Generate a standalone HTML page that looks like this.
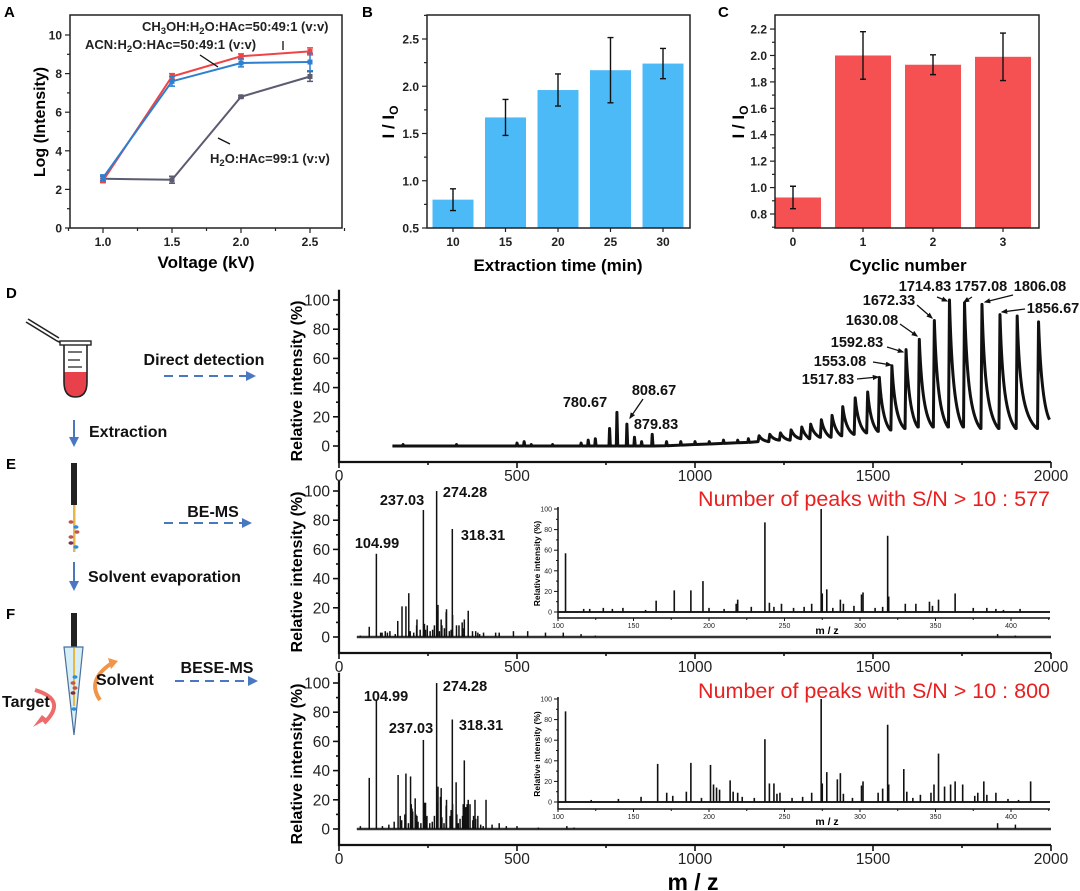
<!DOCTYPE html>
<html><head><meta charset="utf-8"><title>Figure</title>
<style>
html,body{margin:0;padding:0;background:#fff;}
svg{display:block;font-family:"Liberation Sans",Arial,sans-serif;}
.b{font-weight:bold;}
</style></head>
<body>
<svg id="fig" xmlns="http://www.w3.org/2000/svg" width="1080" height="891" viewBox="0 0 1080 891">
<defs>
<marker id="ah" viewBox="0 0 10 10" refX="8" refY="5" markerWidth="5" markerHeight="5" orient="auto"><path d="M0,0 L10,5 L0,10 z" fill="#4a78c0"/></marker>
<marker id="ak" viewBox="0 0 10 10" refX="8" refY="5" markerWidth="5" markerHeight="5" orient="auto"><path d="M0,1 L10,5 L0,9 z" fill="#111"/></marker>
<clipPath id="clipC"><rect x="775" y="15" width="264" height="213"/></clipPath>
</defs>
</svg>
<script>
// ---------- Panel A data ----------
const voltages=[1.0,1.5,2.0,2.5];
const methanolVals=[2.45,7.85,8.9,9.15];
const methanolErr=[0.1,0.15,0.12,0.18];
const acnVals=[2.6,7.6,8.55,8.6];
const acnErr=[0.15,0.25,0.2,0.45];
const waterVals=[2.55,2.5,6.8,7.85];
const waterErr=[0.12,0.18,0.05,0.25];
const aYTicks=[0,2,4,6,8,10];
const aXTicks=[1.0,1.5,2.0,2.5];
// ---------- Panel B data ----------
const extractionTimes=['10','15','20','25','30'];
const extractionVals=[0.8,1.67,1.96,2.17,2.24];
const extractionErr=[0.115,0.19,0.17,0.345,0.16];
const bYTicks=[0.5,1.0,1.5,2.0,2.5];
// ---------- Panel C data ----------
const cyclicNums=['0','1','2','3'];
const cyclicVals=[0.925,2.0,1.93,1.99];
const cyclicErr=[0.085,0.18,0.075,0.18];
const cYTicks=[0.8,1.0,1.2,1.4,1.6,1.8,2.0,2.2];
// ---------- Spectra common ----------
const mzTicks=[0,500,1000,1500,2000];
const relTicks=[0,20,40,60,80,100];
const insetMzTicks=[100,150,200,250,300,350,400];
// ---------- Panel D data ----------
const dSmallMz=[180,330,500,520,540,600,680,700,720,760,780.67,808.67,830,850,879.83,920,960,1000,1040,1080,1120,1150];
const dSmallInt=[1,1,2,3,1,1,2,4,5,12,23,15,6,3,8,3,3,3,3,4,4,5];
const dEnvMz=[1180,1210,1240,1270,1300,1325,1355,1385,1415,1450,1485,1517.83,1553.08,1592.83,1630.08,1672.33,1714.83,1757.08,1806.08,1856.67,1905,1965];
const dEnvInt=[7,8,9,11,13,15,18,21,27,33,37,47,55,66,73,86,100,98,97,90,89,85];
const dEnvTrough=[3,4,4,5,5,6,6,7,8,9,10,11,12,13,13,13,13,12,12,12,12,18];
const dLabels=['780.67','808.67','879.83','1517.83','1553.08','1592.83','1630.08','1672.33','1714.83','1757.08','1806.08','1856.67'];
// ---------- Panel E data ----------
const eMz=[60,85,104.99,117,121,130,136,143,158,165,177,188,196,200,210,218,219,228,237.03,240,243,248,256,263,268,274.28,275,278,282,287,289,296,301,302,310,315,318.31,319,330,337,346,348,352,363,375,384,390,395,406,440,450,490,530,580,630,680,720,1850,1900];
const eInt=[1,7,57,3,3,4,3,4,2,11,21,21,30,4,3,8,12,5,87,9,5,8,4,5,8,100,18,22,4,12,8,6,17,19,4,5,74,15,8,8,10,6,12,18,4,4,3,2,3,3,3,4,4,3,3,2,1,2,1];
const ePeakLabels=['104.99','237.03','274.28','318.31'];
// ---------- Panel F data ----------
const fMz=[60,85,104.99,122,140,155,166,172,176,185,188,195,201,203,205,207,214,216,219,222,230,237.03,240,243,245,247,255,262,268,274.28,275,278,285,287,289,295,301,302,312,315,318.31,319,329,331,335,340,347,349,352,356,360,363,368,376,378,382,384,390,398,405,413,430,450,470,500,560,640,660,1850,1900];
const fInt=[2,35,88,2,3,5,37,9,6,10,38,4,36,17,14,12,21,10,9,5,4,61,18,18,8,9,4,5,9,100,18,29,22,28,8,4,16,20,9,13,75,17,32,10,4,7,9,17,47,15,17,20,17,6,9,20,7,9,3,2,20,3,4,2,2,1,2,1,4,3];
const fPeakLabels=['104.99','237.03','274.28','318.31'];
const eCount='577';
const fCount='800';

const NS='http://www.w3.org/2000/svg';
const svg=document.getElementById('fig');
function mk(tag,attrs,parent){const e=document.createElementNS(NS,tag);for(const k in attrs)e.setAttribute(k,attrs[k]);(parent||svg).appendChild(e);return e;}
function tx(str,attrs,parent){const e=mk('text',attrs,parent);e.textContent=str;return e;}
function grp(parent){return mk('g',{},parent);}

// ================= PANEL A =================
const gA=grp();


const xA=v=>103+(v-1)*138;
const yA=v=>228-v*19.3;
let el;
el=tx('A',{x:4,y:17,'font-size':15,class:'b'},gA);


el=mk('rect',{x:70,y:15,width:272,height:213,fill:'none',stroke:'#222','stroke-width':1.5},gA);


for(let v=0;v<=10;v+=1){
  const t=mk('line',{x1:70,x2:v%2===0?65:67,y1:yA(v),y2:yA(v),stroke:'#222','stroke-width':1.2},gA);
  
  
}
aYTicks.forEach(v=>{
  const t=tx(String(v),{x:62,y:yA(v)+4.5,'text-anchor':'end','font-size':12,class:'b',fill:'#222'},gA);
  
  
});
for(let v=0.75;v<=2.75;v+=0.25){
  const t=mk('line',{x1:xA(v),x2:xA(v),y1:228,y2:(Math.abs(v*2-Math.round(v*2))<0.01)?233:231,stroke:'#222','stroke-width':1.2},gA);
  
  
}
aXTicks.forEach(v=>{
  const t=tx(v.toFixed(1),{x:xA(v),y:246,'text-anchor':'middle','font-size':12,class:'b',fill:'#222'},gA);
  
  
});
el=tx('Voltage (kV)',{x:206,y:268,'text-anchor':'middle','font-size':17,class:'b'},gA);


el=tx('Log (Intensity)',{x:0,y:0,'text-anchor':'middle','font-size':16,class:'b',transform:'translate(45,122) rotate(-90)'},gA);


function seriesA(vals,errs,color,name){
  const pts=voltages.map((v,i)=>xA(v)+','+yA(vals[i])).join(' ');
  const pl=mk('polyline',{points:pts,fill:'none',stroke:color,'stroke-width':2},gA);
  
  
  voltages.forEach((v,i)=>{
    const x=xA(v),y1=yA(vals[i]+errs[i]),y2=yA(vals[i]-errs[i]);
    const e=mk('path',{d:`M${x},${y1}V${y2}M${x-3},${y1}H${x+3}M${x-3},${y2}H${x+3}`,stroke:color,'stroke-width':1.5,fill:'none'},gA);
    
    
    const p=mk('rect',{x:x-2.5,y:yA(vals[i])-2.5,width:5,height:5,fill:color},gA);
    
    
  });
}
seriesA(waterVals,waterErr,'#5b5b72','water-series');
seriesA(methanolVals,methanolErr,'#f04444','methanol-series');
seriesA(acnVals,acnErr,'#2d7fd0','acn-series');
function chemLabel(parts,x,y,name){
  const t=mk('text',{x:x,y:y,'font-size':13,class:'b',fill:'#222'},gA);
  parts.forEach(p=>{
    const s=mk('tspan',p[1]?{'font-size':9.5,dy:3}:{dy:p[2]||0},t);
    s.textContent=p[0];
  });
  
  
}
chemLabel([['CH'],['3',1],['OH:H',0,-3],['2',1],['O:HAc=50:49:1 (v:v)',0,-3]],142,31,'methanol-series-label');
chemLabel([['ACN:H'],['2',1],['O:HAc=50:49:1 (v:v)',0,-3]],85,49,'acn-series-label');
chemLabel([['H'],['2',1],['O:HAc=99:1 (v:v)',0,-3]],210,163,'water-series-label');
[[283,41,283,50],[200,55,218,67],[218,138,230,144]].forEach(l=>{
  const e=mk('line',{x1:l[0],y1:l[1],x2:l[2],y2:l[3],stroke:'#111','stroke-width':1.3},gA);
  
  
});

// ================= PANEL B =================
const gB=grp();


const xB=i=>453+i*52.5;
const yB=v=>228-(v-0.5)*94.5;
el=tx('B',{x:362,y:17,'font-size':15,class:'b'},gB);


extractionVals.forEach((v,i)=>{
  const r=mk('rect',{x:xB(i)-20.5,y:yB(v),width:41,height:228-yB(v),fill:'#4dbaf8'},gB);
  
  
  const x=xB(i),y1=yB(v+extractionErr[i]),y2=yB(v-extractionErr[i]);
  const e=mk('path',{d:`M${x},${y1}V${y2}M${x-3},${y1}H${x+3}M${x-3},${y2}H${x+3}`,stroke:'#111','stroke-width':1.4,fill:'none'},gB);
  
  
  const t=tx(extractionTimes[i],{x:x,y:246,'text-anchor':'middle','font-size':12,class:'b',fill:'#222'},gB);
  
  
  const tk=mk('line',{x1:x,x2:x,y1:228,y2:232,stroke:'#222','stroke-width':1.2},gB);
  
  
});
el=mk('rect',{x:427,y:15,width:263,height:213,fill:'none',stroke:'#222','stroke-width':1.5},gB);


for(let v=0.5;v<=2.76;v+=0.25){
  const major=Math.abs(v*2-Math.round(v*2))<0.01;
  const t=mk('line',{x1:427,x2:major?422:424,y1:yB(v),y2:yB(v),stroke:'#222','stroke-width':1.2},gB);
  
  
}
bYTicks.forEach(v=>{
  const t=tx(v.toFixed(1),{x:419,y:yB(v)+4.5,'text-anchor':'end','font-size':12,class:'b',fill:'#222'},gB);
  
  
});
el=tx('Extraction time (min)',{x:558,y:271,'text-anchor':'middle','font-size':17,class:'b'},gB);


el=mk('text',{x:0,y:0,'text-anchor':'middle','font-size':17,class:'b',transform:'translate(394,122) rotate(-90)'},gB);
el.innerHTML='I / I<tspan font-size="12" dy="4">O</tspan>';



// ================= PANEL C =================
const gC=grp();


const xC=i=>793+i*70;
const yC=v=>214-(v-0.8)*132.1;
el=tx('C',{x:718,y:17,'font-size':15,class:'b'},gC);


cyclicVals.forEach((v,i)=>{
  const r=mk('rect',{x:xC(i)-28,y:yC(v),width:56,height:228-yC(v),fill:'#f65152','clip-path':'url(#clipC)'},gC);
  
  
  const x=xC(i),y1=yC(v+cyclicErr[i]),y2=yC(v-cyclicErr[i]);
  const e=mk('path',{d:`M${x},${y1}V${y2}M${x-3},${y1}H${x+3}M${x-3},${y2}H${x+3}`,stroke:'#111','stroke-width':1.4,fill:'none'},gC);
  
  
  const t=tx(cyclicNums[i],{x:x,y:246,'text-anchor':'middle','font-size':12,class:'b',fill:'#222'},gC);
  
  
  const tk=mk('line',{x1:x,x2:x,y1:228,y2:232,stroke:'#222','stroke-width':1.2},gC);
  
  
});
el=mk('rect',{x:775,y:15,width:264,height:213,fill:'none',stroke:'#222','stroke-width':1.5},gC);


for(let k=0;k<=15;k++){
  const v=0.7+k*0.1;
  const major=k%2===1;
  const t=mk('line',{x1:775,x2:major?770:772,y1:yC(v),y2:yC(v),stroke:'#222','stroke-width':1.2},gC);
  
  
}
cYTicks.forEach(v=>{
  const t=tx(v.toFixed(1),{x:767,y:yC(v)+4.5,'text-anchor':'end','font-size':12,class:'b',fill:'#222'},gC);
  
  
});
el=tx('Cyclic number',{x:908,y:271,'text-anchor':'middle','font-size':17,class:'b'},gC);


el=mk('text',{x:0,y:0,'text-anchor':'middle','font-size':17,class:'b',transform:'translate(744,122) rotate(-90)'},gC);
el.innerHTML='I / I<tspan font-size="12" dy="4">O</tspan>';



// ================= SPECTRA =================
const xM=m=>339+m*0.356;
function mainAxes(g,y0,axisY,name){
  const yS=v=>y0-v*1.46;
  const ax=mk('path',{d:`M339,${yS(107)}V${axisY}H1051`,fill:'none',stroke:'#111','stroke-width':2.2},g);
  
  
  for(let v=0;v<=100;v+=10){
    const t=mk('line',{x1:339,x2:v%20===0?333:336,y1:yS(v),y2:yS(v),stroke:'#111','stroke-width':1.6},g);
    
    
  }
  relTicks.forEach(v=>{
    const t=tx(String(v),{x:330,y:yS(v)+5.5,'text-anchor':'end','font-size':15.5,fill:'#222'},g);
    
    
  });
  for(let m=0;m<=2000;m+=250){
    const t=mk('line',{x1:xM(m),x2:xM(m),y1:axisY,y2:axisY+(m%500===0?6:3),stroke:'#111','stroke-width':1.6},g);
    
    
  }
  mzTicks.forEach(m=>{
    const t=tx(String(m),{x:xM(m),y:axisY+19,'text-anchor':'middle','font-size':15.5,fill:'#222'},g);
    
    
  });
  const yl=tx('Relative intensity (%)',{x:0,y:0,'text-anchor':'middle','font-size':16,class:'b',transform:`translate(302,${(yS(100)+axisY)/2}) rotate(-90)`},g);
  
  
  return yS;
}

// ----- D -----
const gD=grp();


const yD=mainAxes(gD,446,462,'d');
(function(){
  let d=`M${xM(150)},${yD(0)}`;
  dSmallMz.forEach((m,i)=>{
    const base=m>900?Math.min(3,(m-900)/100):0;
    d+=` L${xM(m)-0.6},${yD(base)} L${xM(m)},${yD(dSmallInt[i])} L${xM(m)+0.8},${yD(base)}`;
  });
  dEnvMz.forEach((m,i)=>{
    const h=dEnvInt[i],tr=dEnvTrough[i];
    const next=i<dEnvMz.length-1?dEnvMz[i+1]:2000;
    const prevTr=i>0?dEnvTrough[i-1]:3;
    d+=` L${xM(m)-1},${yD(prevTr)} L${xM(m)},${yD(h)}`;
    d+=` C${xM(m)+2},${yD(tr+(h-tr)*0.4)} ${xM(m)+6},${yD(tr+(h-tr)*0.1)} ${xM(next)-1.5},${yD(tr)}`;
  });
  const p=mk('path',{d:d,fill:'none',stroke:'#111','stroke-width':3,'stroke-linejoin':'round'},gD);
  
  
})();
const dLabelLayout=[
 [585,407,null],[654,395,[643,399,630,418]],[656,429,null],
 [828,384,[857,379,878,377]],[840,366,[873,362,891,365]],[857,347,[887,347,903,352]],
 [872,325,[900,324,917,336]],[889,305,[917,305,932,318]],[925,291,[937,297,947,301]],
 [981,291,[972,297,964,302]],[1040,291,[1013,295,985,302]],[1053,313,[1025,309,1002,312]]];
dLabels.forEach((lab,i)=>{
  const L=dLabelLayout[i];
  const t=tx(lab,{x:L[0],y:L[1],'text-anchor':'middle','font-size':14.5,class:'b',fill:'#111'},gD);
  
  
  if(L[2]){
    const a=mk('line',{x1:L[2][0],y1:L[2][1],x2:L[2][2],y2:L[2][3],stroke:'#111','stroke-width':1.3,'marker-end':'url(#ak)'},gD);
    
    
  }
});

// ----- E / F -----
function msPanel(name,mzArr,intArr,y0,axisY,labels,labelLayout,iy0,iAxisY,count,countY){
  const g=grp();
  
  
  const yS=mainAxes(g,y0,axisY,name);
  const bl=mk('line',{x1:xM(50),x2:xM(2000),y1:y0,y2:y0,stroke:'#333','stroke-width':2.6},g);
  
  
  mzArr.forEach((m,i)=>{
    const l=mk('line',{x1:xM(m),x2:xM(m),y1:y0,y2:yS(intArr[i]),stroke:'#111','stroke-width':1.5},g);
    
    
  });
  labels.forEach((lab,i)=>{
    const t=tx(lab,{x:labelLayout[i][0],y:labelLayout[i][1],'text-anchor':'middle','font-size':14.5,class:'b',fill:'#111'},g);
    
    
  });
  const xi=m=>558+(m-100)*1.51;
  const yi=v=>iy0-v*1.03;
  const ig=grp(g);
  
  
  const ibl=mk('line',{x1:558,x2:1050,y1:iy0,y2:iy0,stroke:'#222','stroke-width':2},ig);
  
  
  mzArr.forEach((m,i)=>{
    if(m<100||m>426)return;
    const l=mk('line',{x1:xi(m),x2:xi(m),y1:iy0,y2:yi(intArr[i]),stroke:'#111','stroke-width':1.6},ig);
    
    
  });
  const iax=mk('path',{d:`M558,${yi(102)}V${iAxisY}H1050`,fill:'none',stroke:'#111','stroke-width':1.5},ig);
  
  
  for(let v=0;v<=100;v+=10){
    const t=mk('line',{x1:558,x2:v%20===0?554:556,y1:yi(v),y2:yi(v),stroke:'#111','stroke-width':1},ig);
    
    
  }
  relTicks.forEach(v=>{
    const t=tx(String(v),{x:552,y:yi(v)+2.5,'text-anchor':'end','font-size':7,fill:'#222'},ig);
    
    
  });
  for(let m=100;m<=425;m+=25){
    const t=mk('line',{x1:xi(m),x2:xi(m),y1:iAxisY,y2:iAxisY+(m%50===0?3:2),stroke:'#111','stroke-width':1},ig);
    
    
  }
  insetMzTicks.forEach(m=>{
    const t=tx(String(m),{x:xi(m),y:iAxisY+10,'text-anchor':'middle','font-size':7,fill:'#222'},ig);
    
    
  });
  const mz=tx('m / z',{x:827,y:iAxisY+16,'text-anchor':'middle','font-size':10.5,class:'b'},ig);
  
  
  const iyl=tx('Relative intensity (%)',{x:0,y:0,'text-anchor':'middle','font-size':8.5,class:'b',transform:`translate(540,${(yi(100)+iAxisY)/2}) rotate(-90)`},ig);
  
  
  const ct=tx('Number of peaks with S/N > 10 : '+count,{x:1050,y:countY,'text-anchor':'end','font-size':21.5,fill:'#e8201f'},g);
  
  
}
msPanel('e',eMz,eInt,637,653,ePeakLabels,[[377,548],[402,505],[465,497],[483,540]],612,618,eCount,506);
msPanel('f',fMz,fInt,829,845,fPeakLabels,[[386,701],[411,733],[465,691],[481,730]],802,809,fCount,698);
el=tx('m / z',{x:693,y:890,'text-anchor':'middle','font-size':23,class:'b'});



// ================= LEFT SCHEMATIC =================
const gS=grp();


[['D',6,298],['E',6,469],['F',6,619]].forEach(p=>{
  const t=tx(p[0],{x:p[1],y:p[2],'font-size':15,class:'b'},gS);
  
  
});
el=mk('path',{d:'M26,322 L57,341 M28,319 L59,338 M57,341 L62,343',stroke:'#222','stroke-width':1.6,fill:'none'},gS);


el=mk('path',{d:'M64,372 H87 V382 Q87,397 75.5,397 Q64,397 64,382 Z',fill:'#e8414b'},gS);


el=mk('path',{d:'M64,345 V382 Q64,397 75.5,397 Q87,397 87,382 V345',fill:'none',stroke:'#222','stroke-width':1.6},gS);


el=mk('rect',{x:60,y:341,width:31,height:4,fill:'#fff',stroke:'#222','stroke-width':1.4},gS);


el=mk('path',{d:'M68,352H82M68,360H80M68,367H82',stroke:'#222','stroke-width':1.2},gS);


el=mk('rect',{x:71,y:463,width:6,height:42,fill:'#222'},gS);


el=mk('rect',{x:73,y:505,width:2.5,height:47,fill:'#e6b84a'},gS);


[[71,522,'#c0554a'],[76,527,'#2a8ee0'],[77,532,'#c0554a'],[71,537,'#c0554a'],[71,543,'#7a3050'],[76,547,'#2a8ee0']].forEach(c=>{
  const e=mk('ellipse',{cx:c[0],cy:c[1],rx:2.5,ry:1.8,fill:c[2]},gS);
  
  
});
el=mk('rect',{x:71,y:613,width:6,height:36,fill:'#222'},gS);


el=mk('path',{d:'M64,647 L83,647 L74,735 Z',fill:'#d6eef6',stroke:'#4a6f9a','stroke-width':1.2},gS);


el=mk('rect',{x:73,y:648,width:2,height:58,fill:'#e6b84a'},gS);


[[75,677,'#2a8ee0'],[73,683,'#c0554a'],[75,688,'#c0554a'],[73,693,'#7a3050'],[74,709,'#2a8ee0']].forEach(c=>{
  const e=mk('ellipse',{cx:c[0],cy:c[1],rx:2.5,ry:1.8,fill:c[2]},gS);
  
  
});
el=mk('path',{d:'M100,700 Q86,680 112,663',fill:'none',stroke:'#f0954a','stroke-width':4},gS);


el=mk('path',{d:'M108,658 L118,661 L111,669 Z',fill:'#f0954a'},gS);


el=mk('path',{d:'M35,690 Q68,700 44,723',fill:'none',stroke:'#ef6a6a','stroke-width':4},gS);


el=mk('path',{d:'M47,719 L33,727 L42,715 Z',fill:'#ef6a6a'},gS);


[['Direct detection',204,365,'middle','direct-detection-label'],['Extraction',89,437,'start','extraction-label'],
 ['BE-MS',213,517,'middle','be-ms-label'],['Solvent evaporation',88,582,'start','solvent-evaporation-label'],
 ['BESE-MS',217,673,'middle','bese-ms-label'],['Solvent',96,685,'start','solvent-label'],['Target',2,707,'start','target-label']].forEach(s=>{
  const t=tx(s[0],{x:s[1],y:s[2],'text-anchor':s[3],'font-size':16,class:'b',fill:'#111'},gS);
  
  
});
[[164,376,254,376],[164,523,250,523],[175,681,256,681]].forEach(a=>{
  const e=mk('line',{x1:a[0],y1:a[1],x2:a[2],y2:a[3],stroke:'#4a78c0','stroke-width':2,'stroke-dasharray':'9 6','marker-end':'url(#ah)'},gS);
  
  
});
[[74,420,74,445],[74,562,74,589]].forEach(a=>{
  const e=mk('line',{x1:a[0],y1:a[1],x2:a[2],y2:a[3],stroke:'#4a78c0','stroke-width':2,'marker-end':'url(#ah)'},gS);
  
  
});
</script>
</body></html>
